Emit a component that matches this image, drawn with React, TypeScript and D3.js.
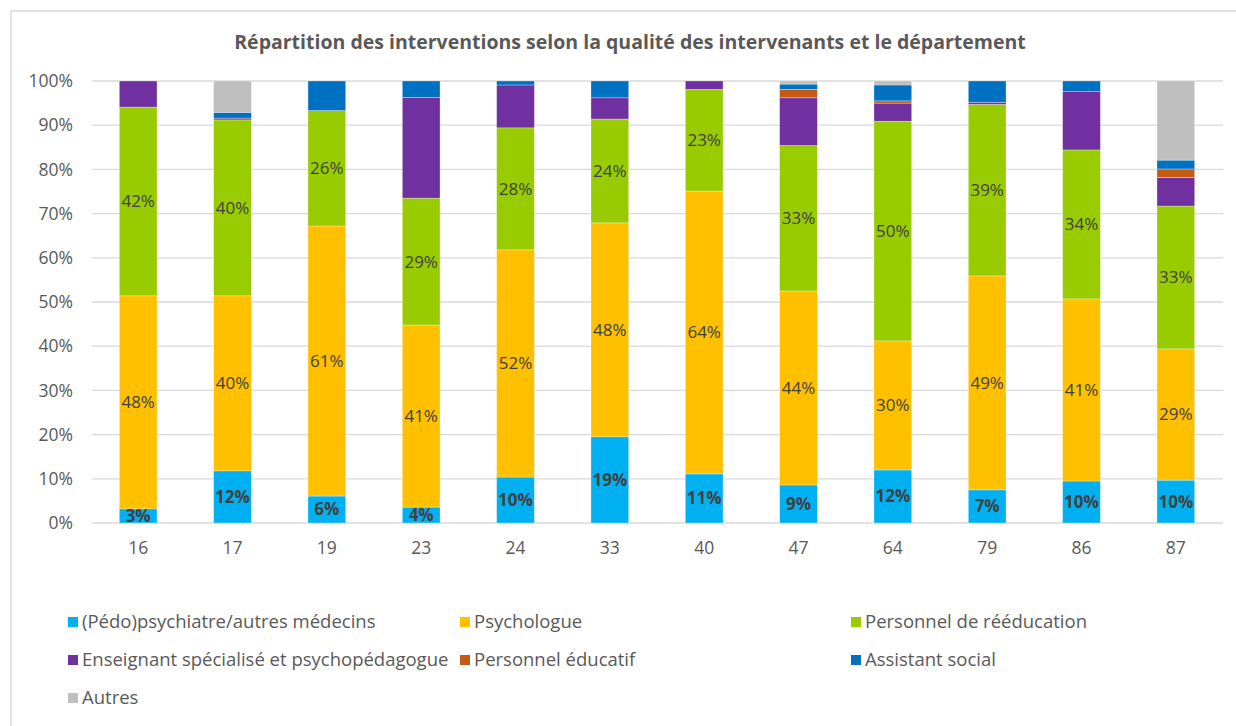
import React from "react";
import * as d3 from "d3";

const departments = ["16", "17", "19", "23", "24", "33", "40", "47", "64", "79", "86", "87"];
const seriesNames = [
  "(Pédo)psychiatre/autres médecins",
  "Psychologue",
  "Personnel de rééducation",
  "Enseignant spécialisé et psychopédagogue",
  "Personnel éducatif",
  "Assistant social",
  "Autres",
];
const seriesColors = ["#00b0f0", "#ffc000", "#99cc00", "#7030a0", "#c55a11", "#0070c0", "#bfbfbf"];

const medecins = [3.2, 11.8, 6.1, 3.6, 10.4, 19.5, 11.1, 8.6, 12.0, 7.5, 9.5, 9.7];
const psychologue = [48.2, 39.6, 61.1, 41.2, 51.4, 48.4, 64.0, 43.9, 29.2, 48.4, 41.2, 29.7];
const reeducation = [42.7, 39.8, 26.1, 28.7, 27.6, 23.5, 23.0, 32.9, 49.7, 38.8, 33.7, 32.3];
const enseignant = [5.9, 0.4, 0.0, 22.8, 9.7, 4.8, 1.9, 10.8, 4.1, 0.5, 13.2, 6.5];
const educatif = [0.0, 0.0, 0.0, 0.0, 0.0, 0.0, 0.0, 1.9, 0.5, 0.0, 0.0, 1.9];
const assistant = [0.0, 1.3, 6.7, 3.7, 0.9, 3.8, 0.0, 1.2, 3.6, 4.8, 2.4, 2.0];
const autres = [0.0, 7.1, 0.0, 0.0, 0.0, 0.0, 0.0, 0.7, 0.9, 0.0, 0.0, 17.9];

const seriesValues = [medecins, psychologue, reeducation, enseignant, educatif, assistant, autres];
const labelText = [
  ["3%", "12%", "6%", "4%", "10%", "19%", "11%", "9%", "12%", "7%", "10%", "10%"],
  ["48%", "40%", "61%", "41%", "52%", "48%", "64%", "44%", "30%", "49%", "41%", "29%"],
  ["42%", "40%", "26%", "29%", "28%", "24%", "23%", "33%", "50%", "39%", "34%", "33%"],
];
const yTicks = [0, 10, 20, 30, 40, 50, 60, 70, 80, 90, 100];

const W = 1236;
const H = 726;
const FONT = "'Open Sans', 'Noto Sans', sans-serif";
const TXT = "#595959";

export default function App() {
  const x = d3.scaleBand<string>().domain(departments).range([91, 1223]).paddingInner(0.6).paddingOuter(0.3);
  const y = d3.scaleLinear().domain([0, 100]).range([523, 81]);

  const rows = departments.map((d, i) => {
    const r: any = { dep: d };
    seriesNames.forEach((s, k) => (r[s] = seriesValues[k][i]));
    return r;
  });
  const stacked = d3.stack<any>().keys(seriesNames)(rows);

  const legendPos = [
    [68, 622], [460, 622], [851, 622],
    [68, 660], [460, 660], [851, 660],
    [68, 698],
  ];

  return (
    <div style={{ position: "absolute", left: 0, top: 0 }}>
      <svg width={W} height={H} style={{ display: "block", background: "#fff" }} fontFamily={FONT}>
        <rect x={11} y={11} width={W + 10} height={H + 10} fill="#fff" stroke="#d9d9d9" strokeWidth={1.5} />
        <text x={630} y={49} textAnchor="middle" fontSize={19.5} fontWeight={700} fill={TXT}>
          Répartition des interventions selon la qualité des intervenants et le département
        </text>
        {yTicks.map((t) => (
          <g key={t}>
            <line x1={92} x2={1223} y1={y(t)} y2={y(t)} stroke="#d9d9d9" strokeWidth={1.3} />
            <text x={73} y={y(t)} dy="0.35em" textAnchor="end" fontSize={17.5} fill={TXT}>
              {t}%
            </text>
          </g>
        ))}
        {stacked.map((layer, k) => (
          <g key={k} fill={seriesColors[k]}>
            {layer.map((seg, i) =>
              seg[1] - seg[0] > 0 ? (
                <rect
                  key={i}
                  x={x(departments[i])!}
                  width={x.bandwidth()}
                  y={y(seg[1])}
                  height={y(seg[0]) - y(seg[1])}
                  stroke="#fff"
                  strokeOpacity={0.5}
                  strokeWidth={0.6}
                />
              ) : null
            )}
          </g>
        ))}
        {stacked.slice(0, 3).map((layer, k) => (
          <g key={"l" + k}>
            {layer.map((seg, i) => (
              <text
                key={i}
                x={x(departments[i])! + x.bandwidth() / 2}
                y={y((seg[0] + seg[1]) / 2)}
                dy="0.35em"
                textAnchor="middle"
                fontSize={17}
                fontWeight={k === 0 ? 700 : 400}
                fill="#404040"
              >
                {labelText[k][i]}
              </text>
            ))}
          </g>
        ))}
        {departments.map((d) => (
          <text key={d} x={x(d)! + x.bandwidth() / 2} y={548} dy="0.35em" textAnchor="middle" fontSize={17.5} fill={TXT}>
            {d}
          </text>
        ))}
        {seriesNames.map((s, k) => (
          <g key={s} transform={`translate(${legendPos[k][0]},${legendPos[k][1]})`}>
            <rect x={0} y={-5} width={10} height={10} fill={seriesColors[k]} />
            <text x={14} y={0} dy="0.35em" fontSize={18.5} fill={TXT}>
              {s}
            </text>
          </g>
        ))}
      </svg>
    </div>
  );
}
